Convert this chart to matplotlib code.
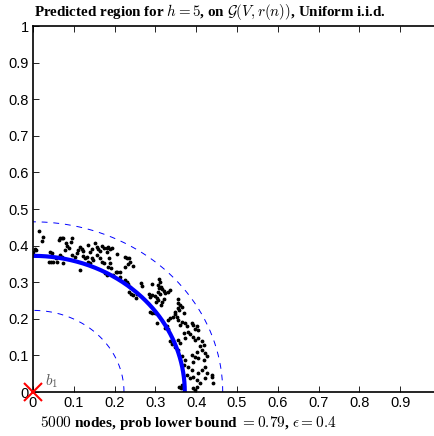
import numpy as np
import matplotlib
matplotlib.use("Agg")
import matplotlib.pyplot as plt

plt.rcParams['mathtext.fontset'] = 'cm'

# radii of the predicted region (thick) and its bounds (dashed)
r_pred = 0.372
r_outer = 0.465
r_inner = 0.223

# node positions
node_x = [0.014, 0.025, 0.023, 0.004, 0.065, 0.070, 0.074, 0.063, 0.095, 0.093,
          0.081, 0.084, 0.089, 0.078, 0.115, 0.119, 0.111, 0.123, 0.136, 0.144,
          0.140, 0.152, 0.156, 0.160, 0.164, 0.168, 0.174, 0.181, 0.185, 0.189,
          0.193, 0.182, 0.042, 0.046, 0.038, 0.043, 0.050, 0.058, 0.056, 0.066,
          0.070, 0.074, 0.095, 0.107, 0.103, 0.123, 0.127, 0.132, 0.136, 0.144,
          0.140, 0.148, 0.115, 0.156, 0.164, 0.168, 0.173, 0.187, 0.189, 0.185,
          0.190, 0.205, 0.226, 0.231, 0.236, 0.238, 0.234, 0.246, 0.226, 0.203,
          0.207, 0.213, 0.197, 0.213, 0.226, 0.230, 0.234, 0.238, 0.236, 0.240,
          0.246, 0.254, 0.252, 0.181, 0.176, 0.001, 0.007,
          0.265, 0.266, 0.291, 0.309, 0.311, 0.307, 0.314, 0.309, 0.316, 0.320,
          0.306, 0.324, 0.311, 0.332, 0.336, 0.284, 0.291, 0.287, 0.299, 0.303,
          0.307, 0.301, 0.316, 0.320, 0.314, 0.355, 0.356, 0.360, 0.365, 0.355,
          0.358, 0.369, 0.348, 0.347, 0.342, 0.336, 0.332, 0.287, 0.291, 0.299,
          0.303, 0.328, 0.324, 0.332, 0.352, 0.356, 0.365, 0.360, 0.373, 0.377,
          0.389, 0.393, 0.401, 0.397, 0.405, 0.381, 0.385, 0.369, 0.373, 0.356,
          0.360, 0.336, 0.340, 0.348, 0.356, 0.393, 0.397, 0.405, 0.414, 0.410,
          0.418, 0.414, 0.401, 0.389, 0.397, 0.405, 0.393, 0.422, 0.426, 0.418,
          0.365, 0.373, 0.369, 0.381, 0.389, 0.377, 0.385, 0.393, 0.401, 0.405,
          0.414, 0.422, 0.426, 0.438, 0.442, 0.410, 0.401, 0.393, 0.397, 0.365,
          0.358, 0.363, 0.422, 0.438]
node_y = [0.440, 0.424, 0.413, 0.391, 0.422, 0.422, 0.420, 0.415, 0.420, 0.411,
          0.406, 0.400, 0.394, 0.388, 0.397, 0.391, 0.388, 0.385, 0.402, 0.391,
          0.383, 0.406, 0.397, 0.391, 0.385, 0.400, 0.394, 0.393, 0.397, 0.391,
          0.394, 0.383, 0.383, 0.379, 0.356, 0.354, 0.354, 0.354, 0.365, 0.374,
          0.370, 0.352, 0.374, 0.379, 0.370, 0.372, 0.365, 0.370, 0.356, 0.365,
          0.352, 0.361, 0.333, 0.374, 0.365, 0.356, 0.352, 0.365, 0.352, 0.342,
          0.338, 0.376, 0.368, 0.365, 0.367, 0.356, 0.349, 0.345, 0.342, 0.329,
          0.327, 0.329, 0.320, 0.315, 0.306, 0.301, 0.294, 0.288, 0.274, 0.269,
          0.265, 0.269, 0.258, 0.320, 0.325, 0.383, 0.388,
          0.297, 0.290, 0.295, 0.308, 0.301, 0.292, 0.288, 0.283, 0.281, 0.277,
          0.274, 0.271, 0.268, 0.274, 0.279, 0.268, 0.265, 0.260, 0.262, 0.256,
          0.251, 0.247, 0.247, 0.253, 0.238, 0.253, 0.242, 0.238, 0.233, 0.229,
          0.224, 0.217, 0.219, 0.213, 0.206, 0.201, 0.197, 0.219, 0.215, 0.216,
          0.188, 0.179, 0.174, 0.171, 0.206, 0.197, 0.192, 0.183, 0.188, 0.179,
          0.189, 0.183, 0.179, 0.171, 0.169, 0.165, 0.158, 0.160, 0.147, 0.142,
          0.133, 0.138, 0.131, 0.124, 0.115, 0.151, 0.142, 0.147, 0.138, 0.126,
          0.128, 0.115, 0.110, 0.101, 0.095, 0.092, 0.083, 0.106, 0.097, 0.087,
          0.097, 0.087, 0.074, 0.069, 0.060, 0.046, 0.037, 0.042, 0.033, 0.051,
          0.060, 0.069, 0.051, 0.046, 0.024, 0.024, 0.015, 0.010, 0.005, 0.019,
          0.015, 0.010, 0.037, 0.042]

xticks = [0, 0.1, 0.2, 0.3, 0.4, 0.5, 0.6, 0.7, 0.8, 0.9, 1]
yticks = [0, 0.1, 0.2, 0.3, 0.4, 0.5, 0.6, 0.7, 0.8, 0.9, 1]
tick_labels = ['0', '0.1', '0.2', '0.3', '0.4', '0.5', '0.6', '0.7', '0.8', '0.9', '1']

fig = plt.figure(figsize=(4.35, 4.36), dpi=100)
ax = fig.add_axes([33 / 435, 44 / 436, 408 / 435, 366 / 436])

theta = np.linspace(0, np.pi / 2, 300)
ax.plot(r_outer * np.cos(theta), r_outer * np.sin(theta), color='blue',
        lw=0.7, ls=(0, (6, 6)))
ax.plot(r_inner * np.cos(theta), r_inner * np.sin(theta), color='blue',
        lw=0.7, ls=(0, (6, 6)))
ax.plot(node_x, node_y, '.', color='black', ms=3.5)
ax.plot(r_pred * np.cos(theta), r_pred * np.sin(theta), color='blue', lw=3)

ax.plot([0], [0], 'x', color='red', ms=13, mew=1.5, clip_on=False, zorder=5)
ax.text(0.03, 0.018, '$b_1$', color='0.35', fontsize=11)

ax.set_xlim(0, 1)
ax.set_ylim(0, 1)
ax.set_xticks(xticks)
ax.set_yticks(yticks)
ax.set_xticklabels(tick_labels[:-1] + [''], family='Liberation Sans', fontsize=10.5)
ax.set_yticklabels(tick_labels, family='Liberation Sans', fontsize=10.5)
ax.tick_params(direction='in', top=True, right=True, length=4, width=0.6, pad=3)
for s in ax.spines.values():
    s.set_linewidth(1.2)

fig.text(0.483, 0.972, r'Predicted region for $h=5$, on $\mathcal{G}(V,r(n))$, Uniform i.i.d.',
         ha='center', va='center', family='Liberation Serif', fontweight='bold', fontsize=10.8)
fig.text(0.432, 0.03, r'$5000$ nodes, prob lower bound $=0.79$, $\epsilon=0.4$',
         ha='center', va='center', family='Liberation Serif', fontweight='bold', fontsize=11)

plt.savefig('out.png', dpi=100)
